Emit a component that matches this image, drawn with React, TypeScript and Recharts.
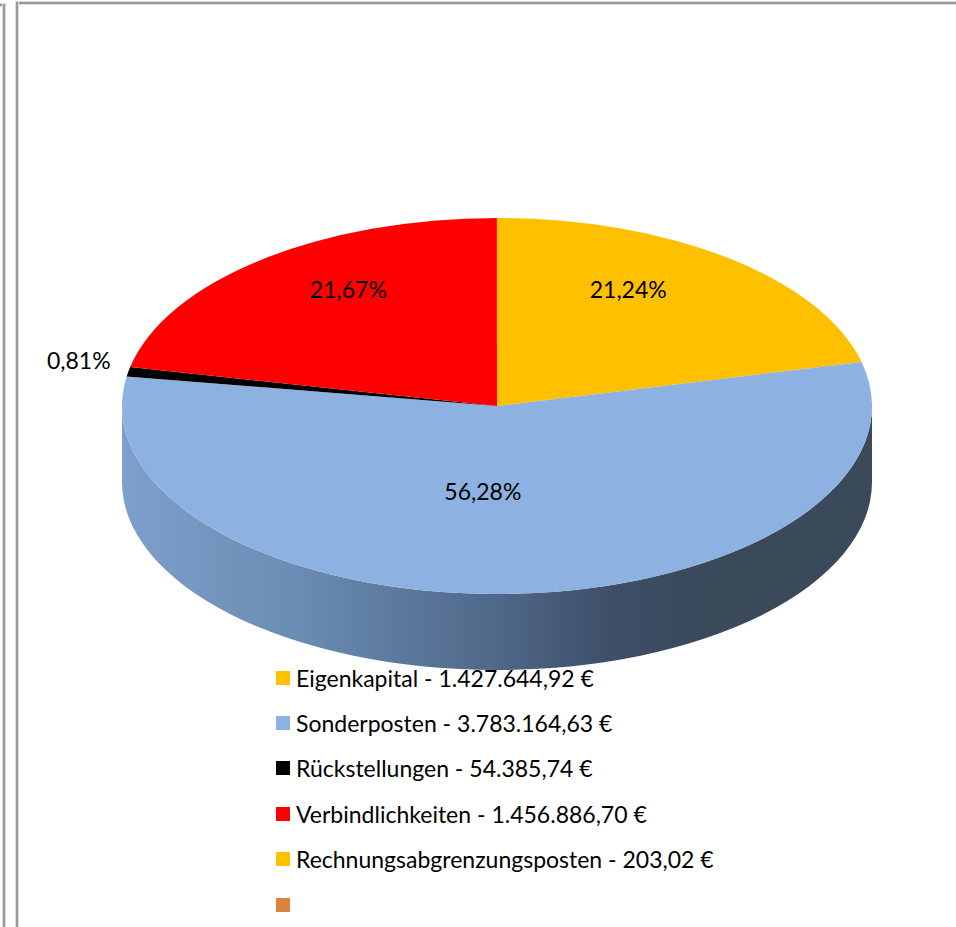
import React from 'react';
import { PieChart, Pie, Legend } from 'recharts';

const names = ['Eigenkapital', 'Sonderposten', 'Rückstellungen', 'Verbindlichkeiten', 'Rechnungsabgrenzungsposten', ''];
const values = [1427644.92, 3783164.63, 54385.74, 1456886.7, 203.02, 0];
const amountLabels = ['1.427.644,92 €', '3.783.164,63 €', '54.385,74 €', '1.456.886,70 €', '203,02 €', ''];
const colors = ['#FFC000', '#8DB2E1', '#000000', '#FF0000', '#FFC000', '#DB843D'];
const percentLabels = ['21,24%', '56,28%', '0,81%', '21,67%', '', ''];
// label shift from the projected mid radius point, same order as names
const labelShift = [[-8, -28], [-23, -28], [-197, -25], [-7, -29], [0, 0], [0, 0]];

const rows = names.map((name, i) => ({ name, value: values[i], fill: colors[i] }));

const W = 956;
const H = 927;
const CX = 497;
const CY = 406;
const RX = 375;
const TILT = 188 / 375; // ry / rx
const DEPTH = 76;
const RAD = Math.PI / 180;

const pt = (a: number, r: number, dy = 0) => [
  CX + r * Math.cos(a * RAD),
  CY - r * TILT * Math.sin(a * RAD) + dy,
];

// top face of a slice, angles are the flat circle angles, squashed on y
function TopSlice(props: any) {
  const { startAngle, endAngle, outerRadius, fill } = props;
  if (Math.abs(startAngle - endAngle) < 0.001) return <g />;
  const [x0, y0] = pt(startAngle, outerRadius);
  const [x1, y1] = pt(endAngle, outerRadius);
  const large = Math.abs(startAngle - endAngle) > 180 ? 1 : 0;
  const ry = outerRadius * TILT;
  return (
    <path
      d={`M${CX},${CY} L${x0},${y0} A${outerRadius},${ry} 0 ${large} 1 ${x1},${y1} Z`}
      fill={fill}
    />
  );
}

// side wall, only the front half of the rim is visible
function WallSlice(props: any) {
  const { startAngle, endAngle, outerRadius } = props;
  const a0 = Math.min(startAngle, 0);
  const a1 = Math.max(endAngle, -180);
  if (a0 <= a1) return <g />;
  const ry = outerRadius * TILT;
  const [x0, y0] = pt(a0, outerRadius);
  const [x1, y1] = pt(a1, outerRadius);
  const d =
    `M${x0},${y0} A${outerRadius},${ry} 0 0 1 ${x1},${y1} ` +
    `L${x1},${y1 + DEPTH} A${outerRadius},${ry} 0 0 0 ${x0},${y0 + DEPTH} Z`;
  return <path d={d} fill="url(#wallShade)" />;
}

function percentLabel(props: any) {
  const { index, midAngle } = props;
  const text = percentLabels[index];
  if (!text) return null;
  const [x, y] = pt(midAngle, RX * 0.6);
  const [sx, sy] = labelShift[index];
  return (
    <text
      x={x + sx}
      y={y + sy}
      fill="#000"
      textAnchor="middle"
      dominantBaseline="central"
      fontSize={23}
      fontFamily="Lato"
    >
      {text}
    </text>
  );
}

function LegendList() {
  return (
    <div style={{ fontFamily: 'Lato', fontSize: 23, color: '#000' }}>
      {names.map((name, i) => (
        <div key={i} style={{ display: 'flex', alignItems: 'center', height: 45.4, whiteSpace: 'nowrap' }}>
          <span style={{ width: 14, height: 14, background: colors[i], marginRight: 6, flex: 'none' }} />
          {name ? <span>{`${name} - ${amountLabels[i]}`}</span> : null}
        </div>
      ))}
    </div>
  );
}

const line = (left: number, top: number, width: number, height: number) => (
  <div style={{ position: 'absolute', left, top, width, height, background: '#999', boxShadow: '0 0 0 1px #DDD' }} />
);

export default function App() {
  return (
    <div style={{ position: 'absolute', left: 0, top: 0, width: W, height: H, overflow: 'hidden', background: '#fff' }}>
      {line(0, 4, 4, 2)}
      {line(3, 4, 2, 923)}
      {line(16, 2, 940, 2)}
      {line(16, 2, 2, 925)}
      <PieChart width={W} height={H} margin={{ top: 0, right: 0, bottom: 0, left: 0 }}>
        <defs>
          <linearGradient id="wallShade" gradientUnits="userSpaceOnUse" x1={122} y1={0} x2={871} y2={0}>
            <stop offset="0" stopColor="#7E9FCB" />
            <stop offset="0.24" stopColor="#6A8BB2" />
            <stop offset="0.5" stopColor="#4F6888" />
            <stop offset="0.66" stopColor="#3D4E66" />
            <stop offset="0.78" stopColor="#3A4A5B" />
            <stop offset="1" stopColor="#3A4A5B" />
          </linearGradient>
        </defs>
        <Pie
          data={rows}
          dataKey="value"
          nameKey="name"
          cx={CX}
          cy={CY}
          outerRadius={RX}
          startAngle={90}
          endAngle={-270}
          stroke="none"
          legendType="none"
          shape={WallSlice}
          isAnimationActive={false}
        />
        <Pie
          data={rows}
          dataKey="value"
          nameKey="name"
          cx={CX}
          cy={CY}
          outerRadius={RX}
          startAngle={90}
          endAngle={-270}
          stroke="none"
          shape={TopSlice}
          label={percentLabel}
          labelLine={false}
          isAnimationActive={false}
        />
        <Legend
          content={<LegendList />}
          wrapperStyle={{ position: 'absolute', left: 276, top: 655, width: 620, bottom: 'auto' }}
        />
      </PieChart>
    </div>
  );
}
